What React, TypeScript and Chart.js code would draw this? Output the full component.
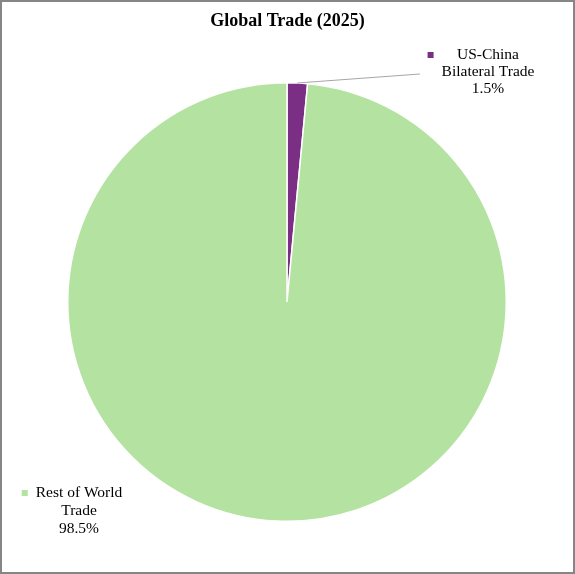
import React, { useEffect, useRef } from "react";
import { Chart, registerables } from "chart.js";

Chart.register(...registerables);

const chartTitle = "Global Trade (2025)";
const categories = ["US-China Bilateral Trade", "Rest of World Trade"];
const categoryLines = [
  ["US-China", "Bilateral Trade"],
  ["Rest of World", "Trade"],
];
const shares = [1.5, 98.5];
const sliceColors = ["#7a2e84", "#b3e2a1"];

const FONT = "'Liberation Serif', 'Times New Roman', serif";

const labelPlugin = {
  id: "sliceLabels",
  afterDatasetsDraw(chart: any) {
    const ctx = chart.ctx as CanvasRenderingContext2D;
    const meta = chart.getDatasetMeta(0);
    const total = shares.reduce((a, b) => a + b, 0);

    ctx.save();
    // title
    ctx.fillStyle = "#000";
    ctx.font = `bold 18px ${FONT}`;
    ctx.textAlign = "center";
    ctx.textBaseline = "middle";
    ctx.fillText(chartTitle, chart.width / 2, 19);

    const placements = [
      { cx: 486, y0: 53, gap: 17, leaderEnd: { x: 418, y: 72 } },
      { cx: 77, y0: 491, gap: 18, leaderEnd: null as any },
    ];

    shares.forEach((v, i) => {
      const p = placements[i];
      const arc = meta.data[i] as any;
      if (p.leaderEnd && arc) {
        const mid = (arc.startAngle + arc.endAngle) / 2;
        const sx = arc.x + Math.cos(mid) * arc.outerRadius;
        const sy = arc.y + Math.sin(mid) * arc.outerRadius;
        ctx.strokeStyle = "#a6a6a6";
        ctx.lineWidth = 1;
        ctx.beginPath();
        ctx.moveTo(sx, sy);
        ctx.lineTo(p.leaderEnd.x, p.leaderEnd.y);
        ctx.stroke();
      }
      const pct = ((v / total) * 100).toFixed(1) + "%";
      const lines = [...categoryLines[i], pct];
      ctx.font = `15.5px ${FONT}`;
      ctx.fillStyle = "#000";
      ctx.textAlign = "center";
      ctx.textBaseline = "middle";
      let maxW = 0;
      lines.forEach((t, k) => {
        maxW = Math.max(maxW, ctx.measureText(t).width);
        ctx.fillText(t, p.cx, p.y0 + k * p.gap);
      });
      const left = p.cx - maxW / 2;
      ctx.fillStyle = sliceColors[i];
      ctx.fillRect(left - 14, p.y0 - 3, 6, 6);
    });
    ctx.restore();
  },
};

export default function App() {
  const ref = useRef<HTMLCanvasElement>(null);
  useEffect(() => {
    if (!ref.current) return;
    const chart = new Chart(ref.current, {
      type: "pie",
      data: {
        labels: categories,
        datasets: [
          {
            data: shares,
            backgroundColor: sliceColors,
            borderColor: "#ffffff",
            borderWidth: 1.5,
          },
        ],
      },
      options: {
        responsive: false,
        animation: false,
        layout: { padding: { left: 65, right: 66, top: 80, bottom: 50 } },
        plugins: {
          legend: { display: false },
          title: { display: false },
          tooltip: { enabled: false },
        },
      },
      plugins: [labelPlugin],
    });
    return () => chart.destroy();
  }, []);
  return (
    <div
      style={{
        position: "absolute",
        left: 0,
        top: 0,
        width: 575,
        height: 574,
        boxSizing: "border-box",
        border: "2px solid #868686",
        background: "#fff",
      }}
    >
      <canvas ref={ref} width={571} height={570} style={{ display: "block", width: 571, height: 570 }} />
    </div>
  );
}
